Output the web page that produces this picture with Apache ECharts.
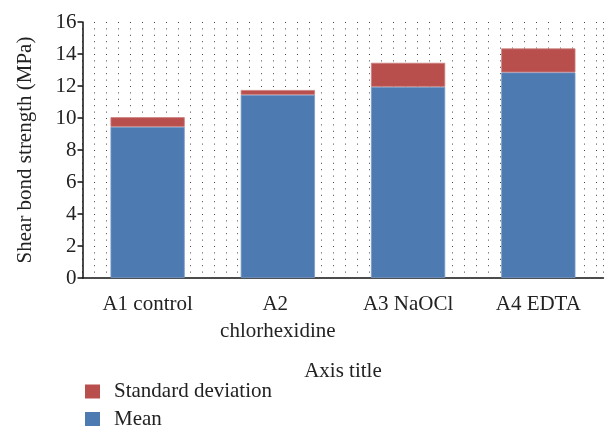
<!DOCTYPE html>
<html>
<head>
<meta charset="utf-8">
<title>Shear bond strength</title>
<script src="https://cdn.jsdelivr.net/npm/echarts@6/dist/echarts.min.js"></script>
<style>
    html, body { margin: 0; padding: 0; background: #fff; }
    #chart { width: 606px; height: 429px; }
</style>
</head>
<body>
<div id="chart"></div>
<script>
// 分组名称
const groups = ['A1 control', 'A2 chlorhexidine', 'A3 NaOCl', 'A4 EDTA'];

// 平均值 (MPa)
const meanValues = [9.45, 11.45, 11.95, 12.85];

// 标准差 (MPa)，堆叠在平均值上方
const sdValues = [0.6, 0.3, 1.5, 1.5];

// y轴刻度
const yMin = 0;
const yMax = 16;
const yStep = 2;

const serifFont = 'Liberation Serif';
const fontSize = 21;

const chart = echarts.init(document.getElementById('chart'));

const option = {
    backgroundColor: '#fff',
    animation: false,
    textStyle: { fontFamily: serifFont },
    grid: {
        left: 82.5,
        right: 0,
        top: 22,
        bottom: 151
    },
    legend: {
        orient: 'vertical',
        left: 85,
        top: 381,
        height: 70,
        padding: 0,
        itemWidth: 15,
        itemHeight: 14,
        itemGap: 6.5,
        icon: 'rect',
        itemStyle: { borderWidth: 0 },
        data: ['Standard deviation', 'Mean'],
        textStyle: {
            fontFamily: serifFont,
            fontSize: fontSize,
            lineHeight: 20,
            color: '#222',
            padding: [0, 0, 0, 9]
        }
    },
    xAxis: [
        {
            type: 'category',
            data: groups,
            name: 'Axis title',
            nameLocation: 'middle',
            nameGap: 83,
            nameTextStyle: { fontFamily: serifFont, fontSize: fontSize, color: '#222' },
            axisLine: { lineStyle: { color: '#111', width: 1.5 } },
            axisTick: { show: false },
            axisLabel: {
                fontFamily: serifFont,
                fontSize: fontSize,
                lineHeight: 27,
                color: '#222',
                margin: 13,
                width: 130,
                overflow: 'break',
                interval: 0
            }
        },
        {
            // 点状网格（仅用于背景）
            type: 'value',
            min: 0,
            max: 43.625,
            interval: 1,
            position: 'bottom',
            axisLine: { show: false },
            axisTick: { show: false },
            axisLabel: { show: false },
            splitLine: {
                show: true,
                lineStyle: { color: '#444', width: 1, type: [1, 5.4] }
            }
        }
    ],
    yAxis: {
        type: 'value',
        min: yMin,
        max: yMax,
        interval: yStep,
        name: 'Shear bond strength (MPa)',
        nameLocation: 'middle',
        nameGap: 47,
        nameTextStyle: { fontFamily: serifFont, fontSize: fontSize, color: '#222' },
        axisLine: { show: true, lineStyle: { color: '#111', width: 1.5 } },
        axisTick: { show: true, length: 5, lineStyle: { color: '#111', width: 1.5 } },
        axisLabel: { fontFamily: serifFont, fontSize: fontSize, color: '#222', margin: 6 },
        splitLine: { show: false }
    },
    series: [
        {
            name: 'Mean',
            type: 'bar',
            stack: 'total',
            xAxisIndex: 0,
            barCategoryGap: '43%',
            data: meanValues,
            itemStyle: { color: '#4E7AB2', borderColor: '#7A9BC8', borderWidth: 0.8 }
        },
        {
            name: 'Standard deviation',
            type: 'bar',
            stack: 'total',
            xAxisIndex: 0,
            barCategoryGap: '43%',
            data: sdValues,
            itemStyle: { color: '#B84F4C', borderColor: '#CC7F7D', borderWidth: 0.8 }
        }
    ]
};

chart.setOption(option);
</script>
</body>
</html>
